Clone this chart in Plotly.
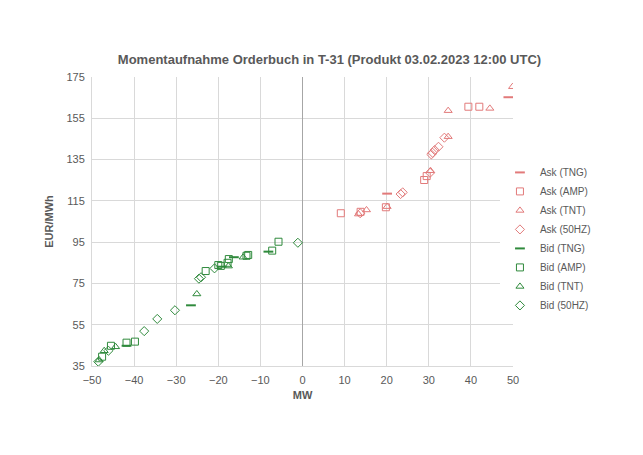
import plotly.graph_objects as go

# Ask side (red)
ask_tng_x = [48.9, 20.1]
ask_tng_y = [165.2, 118.5]
ask_amp_x = [39.4, 42.0, 28.9, 29.5, 19.8, 9.1, 13.8]
ask_amp_y = [160.6, 160.6, 125.1, 127.0, 111.9, 109.0, 109.7]
ask_tnt_x = [49.9, 34.6, 44.5, 34.6, 30.4, 20.1, 15.2, 13.3]
ask_tnt_y = [170.3, 158.7, 159.8, 146.1, 129.6, 112.2, 110.6, 108.6]
ask_50hz_x = [33.7, 32.3, 31.4, 30.9, 30.6, 30.3, 23.8, 23.3, 13.7]
ask_50hz_y = [145.6, 141.2, 139.6, 138.3, 137.5, 128.6, 119.1, 118.3, 109.0]

# Bid side (green)
bid_tng_x = [-26.5, -8.1, -16.3, -19.2, -41.8]
bid_tng_y = [64.4, 90.4, 87.7, 83.1, 44.8]
bid_amp_x = [-5.7, -7.2, -12.9, -13.3, -17.5, -17.8, -20.0, -19.4, -23.0, -39.8, -41.8, -45.5, -47.6]
bid_amp_y = [95.2, 90.9, 88.8, 88.4, 86.8, 85.0, 83.9, 83.5, 81.0, 46.8, 46.3, 44.8, 39.5]
bid_tnt_x = [-25.1, -44.4, -47.1, -48.3, -14.1, -17.6]
bid_tnt_y = [69.9, 44.3, 42.4, 37.9, 87.7, 83.4]
bid_50hz_x = [-1.1, -20.9, -24.1, -24.6, -30.3, -34.5, -37.6, -46.1, -48.5]
bid_50hz_y = [94.7, 82.3, 78.0, 77.3, 62.0, 57.8, 51.9, 42.4, 37.1]

RED = "#e27a7a"
GREEN = "#2f8a3c"

series = [
    ("Ask (TNG)", ask_tng_x, ask_tng_y, "line-ew-open", RED),
    ("Ask (AMP)", ask_amp_x, ask_amp_y, "square-open", RED),
    ("Ask (TNT)", ask_tnt_x, ask_tnt_y, "triangle-up-open", RED),
    ("Ask (50HZ)", ask_50hz_x, ask_50hz_y, "diamond-open", RED),
    ("Bid (TNG)", bid_tng_x, bid_tng_y, "line-ew-open", GREEN),
    ("Bid (AMP)", bid_amp_x, bid_amp_y, "square-open", GREEN),
    ("Bid (TNT)", bid_tnt_x, bid_tnt_y, "triangle-up-open", GREEN),
    ("Bid (50HZ)", bid_50hz_x, bid_50hz_y, "diamond-open", GREEN),
]

fig = go.Figure()
for name, xs, ys, sym, col in series:
    is_dash = sym == "line-ew-open"
    fig.add_trace(go.Scatter(
        x=xs, y=ys, mode="markers", name=name,
        marker=dict(symbol=sym, size=7,
                    color=col, line=dict(color=col, width=2 if is_dash else 1)),
    ))

# page body has an 8px margin, so the figure sits 8px right/down
fig.update_layout(
    width=643, height=455,
    paper_bgcolor="white", plot_bgcolor="white",
    font=dict(family="Liberation Sans, Arial", size=11, color="#595959"),
    title=dict(text="<b>Momentaufnahme Orderbuch in T-31 (Produkt 03.02.2023 12:00 UTC)</b>",
               x=0.5, xanchor="center", y=0.888, yanchor="middle",
               font=dict(size=13, color="#595959")),
    margin=dict(l=84, r=138, t=69, b=97),
    xaxis=dict(range=[-50, 50], dtick=10, showgrid=True, gridcolor="#d9d9d9",
               zeroline=True, zerolinecolor="#a6a6a6", zerolinewidth=1,
               showline=True, linecolor="#d9d9d9", mirror=False,
               ticks="outside", ticklen=4, tickcolor="rgba(0,0,0,0)",
               title=dict(text="<b>MW</b>", standoff=6, font=dict(size=11))),
    yaxis=dict(range=[35, 175], dtick=20, tick0=35, showgrid=True, gridcolor="#d9d9d9",
               zeroline=False, showline=True, linecolor="#d9d9d9",
               ticks="outside", ticklen=4, tickcolor="rgba(0,0,0,0)",
               title=dict(text="<b>EUR/MWh</b>", standoff=10, font=dict(size=11))),
    legend=dict(x=0.969, y=0.72, xanchor="left", yanchor="top",
                font=dict(size=10, color="#595959"), tracegroupgap=0, itemwidth=30),
    showlegend=True,
)

fig.write_html("out.html")
